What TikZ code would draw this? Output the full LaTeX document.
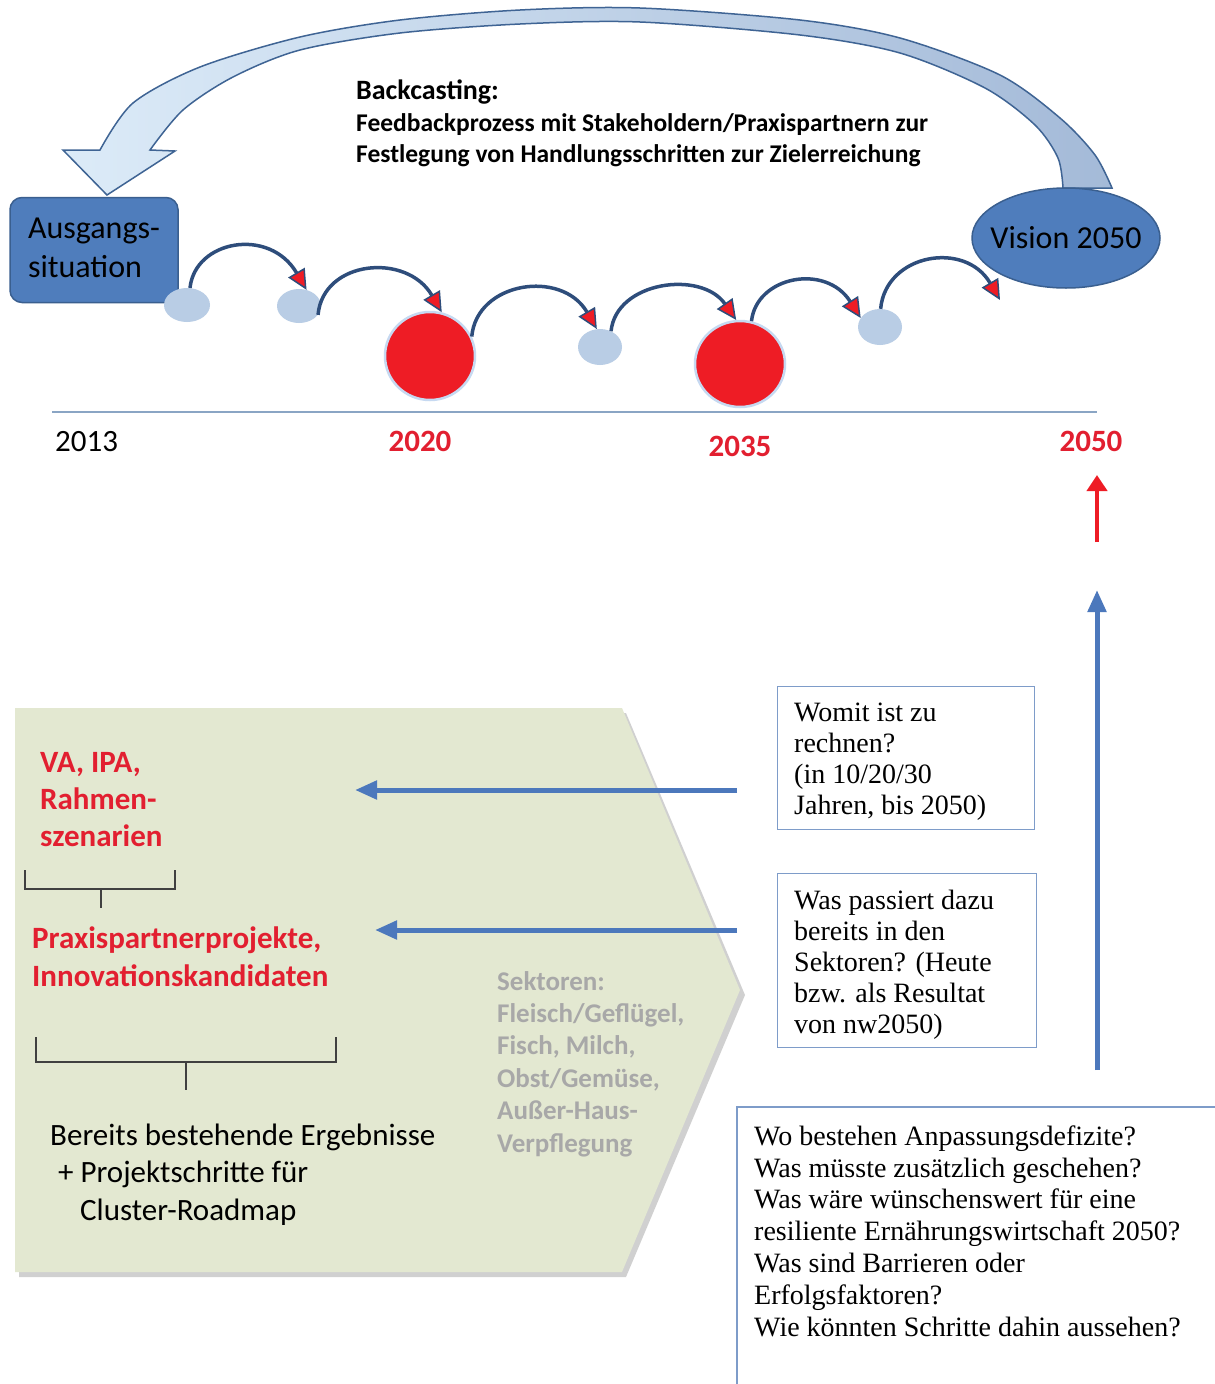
\documentclass[tikz,border=0pt]{standalone}
\usepackage{fontspec}
\setmainfont{Carlito}
\newfontfamily\qserif{Liberation Serif}
\usetikzlibrary{arrows.meta,shapes.geometric}
\definecolor{navy}{HTML}{2E4D7B}
\definecolor{boxblue}{HTML}{4F7DBC}
\definecolor{boxline}{HTML}{3A5F8F}
\definecolor{lightdot}{HTML}{B9CDE5}
\definecolor{redc}{HTML}{EE1C25}
\definecolor{redtxt}{HTML}{E21F30}
\definecolor{ringc}{HTML}{C6D9F1}
\definecolor{tline}{HTML}{8AA5C4}
\definecolor{arrblue}{HTML}{4C78BC}
\definecolor{chev}{HTML}{E3E8D1}
\definecolor{qline}{HTML}{7E9CC9}
\definecolor{sekgray}{HTML}{A8A8A8}
\definecolor{bigl}{HTML}{DCEBF8}
\definecolor{bigd}{HTML}{A4BAD8}
\definecolor{bigline}{HTML}{3F6494}
\begin{document}
\begin{tikzpicture}[x=1pt,y=-1pt,
  ausbox/.style={draw=boxline,line width=1.5pt,fill=boxblue,rounded corners=12pt,
    minimum width=168pt,minimum height=105pt,align=left,inner sep=0pt,
    font=\fontsize{32}{39}\selectfont},
  visnode/.style={ellipse,draw=boxline,line width=1.5pt,fill=boxblue,
    minimum width=188pt,minimum height=100pt,inner sep=0pt},
  dot/.style={ellipse,fill=lightdot,inner sep=0pt},
  bigdot/.style={ellipse,fill=redc,draw=ringc,line width=2.5pt,inner sep=0pt},
  hop/.style={draw=navy,line width=3.5pt,
    -{Triangle[length=20pt,width=19pt,fill=redc,line width=1.5pt]}},
  redarr/.style={draw=redc,line width=4pt,-{Triangle[length=16pt,width=20pt]}},
  barr/.style={draw=arrblue,line width=5pt,-{Triangle[length=22pt,width=18pt]}},
  year/.style={inner sep=0pt,font=\fontsize{31}{31}\selectfont},
  yearred/.style={inner sep=0pt,anchor=base,text=redtxt,font=\bfseries\fontsize{31}{31}\selectfont},
  brace/.style={draw=black!75,line width=1.5pt},
  qbox/.style={draw=qline,line width=1.2pt,fill=white,inner sep=0pt,anchor=north west},
  qtext/.style={anchor=base west,align=left,inner sep=0pt,font=\qserif\fontsize{28}{31}\selectfont},
  redtext/.style={anchor=base west,align=left,inner sep=0pt,text=redtxt,font=\bfseries\fontsize{31}{37}\selectfont}
]
\useasboundingbox (0,0) rectangle (1215,1384);
\fill[white] (0,0) rectangle (1215,1384);

% big backcasting arrow
\path[draw=bigline,line width=1.5pt,left color=bigl,right color=bigd]
  (63,150) -- (100,150) -- plot[smooth] coordinates {(100,150) (133,103) (200,67) (300,37) (400,20) (520,10) (640,8) (800,20) (900,38) (1000,75) (1060,118) (1095,155) (1112,188)}
  -- (1063,188) -- plot[smooth] coordinates {(1063,188) (1058,158) (1035,125) (985,88) (900,53) (800,35) (640,22) (520,24) (400,33) (300,50) (233,77) (183,110) (150,150)}
  -- (175,151) -- (107,195) -- cycle;

% top text (anchor = baseline of last line)
\node[anchor=base west,inner sep=0pt,font=\bfseries\fontsize{28}{30}\selectfont] (bc) at (356,99) {Backcasting:};
\node[anchor=base west,align=left,inner sep=0pt,font=\bfseries\fontsize{25.5}{31}\selectfont] (fb) at (356,162)
  {Feedbackprozess mit Stakeholdern/Praxispartnern zur\\Festlegung von Handlungsschritten zur Zielerreichung};

% main nodes
\node[ausbox] (aus) at (94,250) {Ausgangs-\\situation\vphantom{g}};
\node[visnode] (vis) at (1066,238) {};
\node[inner sep=0pt,font=\fontsize{32}{39}\selectfont] (vislabel) at (vis.center) {Vision 2050};

\node[dot,minimum width=46pt,minimum height=34pt] (e1) at (187,305) {};
\node[dot,minimum width=44pt,minimum height=34pt] (e2) at (299,306) {};
\node[dot,minimum width=44pt,minimum height=36pt] (e3) at (600,347) {};
\node[dot,minimum width=44pt,minimum height=36pt] (e4) at (880,327) {};
\node[bigdot,minimum width=90pt,minimum height=88pt] (r1) at (430,356) {};
\node[bigdot,minimum width=90pt,minimum height=86pt] (r2) at (740,364) {};

\coordinate (vtip) at (1000,300);
\draw[hop] (e1.80) .. controls +(5,-48) and +(-37,-63) .. (e2.65);
\draw[hop] (e2.-25) .. controls +(5,-55) and +(-35,-60) .. (r1.75);
\draw[hop] (r1.25) .. controls +(5,-55) and +(-35,-60) .. (e3.100);
\draw[hop] (e3.55) .. controls +(5,-50) and +(-35,-50) .. (r2.95);
\draw[hop] (r2.75) .. controls +(5,-45) and +(-35,-55) .. (e4.155);
\draw[hop] (e4.88) .. controls +(5,-55) and +(-35,-60) .. (vtip);

% timeline
\draw[draw=tline,line width=1.5pt] (52,412) -- (1097,412);
\node[year,anchor=base west] (y13) at (55,451) {2013};
\node[yearred] (y20) at (420,451) {2020};
\node[yearred] (y35) at (740,456) {2035};
\node[yearred] (y50) at (1091,451) {2050};

\coordinate (ra1) at (1097,542);
\coordinate (ra2) at (1097,475);
\draw[redarr] (ra1) -- (ra2);
\coordinate (ba1) at (1097,1070);
\coordinate (ba2) at (1097,590);
\draw[barr] (ba1) -- (ba2);

% chevron
\fill[black!30,opacity=.6] (19,713) -- (626,713) -- (745,995) -- (626,1277) -- (19,1277) -- cycle;
\fill[chev] (15,708) -- (622,708) -- (740,990) -- (622,1272) -- (15,1272) -- cycle;

\node[redtext] (va) at (40,846) {VA, IPA,\\Rahmen-\\szenarien};
\draw[brace] (25,870) -- (25,889) -- (175,889) -- (175,870);
\draw[brace] (101,889) -- (101,908);
\node[redtext,font=\bfseries\fontsize{31}{38}\selectfont] (pp) at (32,986) {Praxispartnerprojekte,\\Innovationskandidaten};
\draw[brace] (36,1037) -- (36,1062) -- (336,1062) -- (336,1037);
\draw[brace] (186,1062) -- (186,1090);
\node[anchor=base west,align=left,inner sep=0pt,font=\fontsize{31}{37.5}\selectfont] (be) at (50,1220)
  {Bereits bestehende Ergebnisse\\\hspace*{8pt}+ Projektschritte für\\\hspace*{30pt}Cluster-Roadmap};
\node[anchor=base west,align=left,inner sep=0pt,text=sekgray,font=\bfseries\fontsize{27}{32.4}\selectfont] (sek) at (497,1152)
  {Sektoren:\\Fleisch/Geflügel,\\Fisch, Milch,\\Obst/Gemüse,\\Außer-Haus-\\Verpflegung};

% horizontal arrows
\coordinate (h1s) at (737,790);
\coordinate (h1e) at (355,790);
\coordinate (h2s) at (737,930);
\coordinate (h2e) at (375,930);
\draw[barr] (h1s) -- (h1e);
\draw[barr] (h2s) -- (h2e);

% question boxes
\node[qbox,minimum width=257pt,minimum height=143pt] (b1) at (777,686) {};
\node[qtext] (t1) at (794,814) {Womit ist zu\\rechnen?\\(in 10/20/30\\Jahren, bis 2050)};
\node[qbox,minimum width=259pt,minimum height=174pt] (b2) at (777,873) {};
\node[qtext] (t2) at (794,1033) {Was passiert dazu\\bereits in den\\Sektoren? (Heute\\bzw. als Resultat\\von nw2050)};
\draw[draw=qline,line width=1.2pt] (1215,1107) -- (737,1107) -- (737,1384);
\node[qtext,font=\qserif\fontsize{28}{31.8}\selectfont] (t3) at (754,1336)
  {Wo bestehen Anpassungsdefizite?\\Was müsste zusätzlich geschehen?\\Was wäre wünschenswert für eine\\resiliente Ernährungswirtschaft 2050?\\Was sind Barrieren oder\\Erfolgsfaktoren?\\Wie könnten Schritte dahin aussehen?};
\end{tikzpicture}
\end{document}
